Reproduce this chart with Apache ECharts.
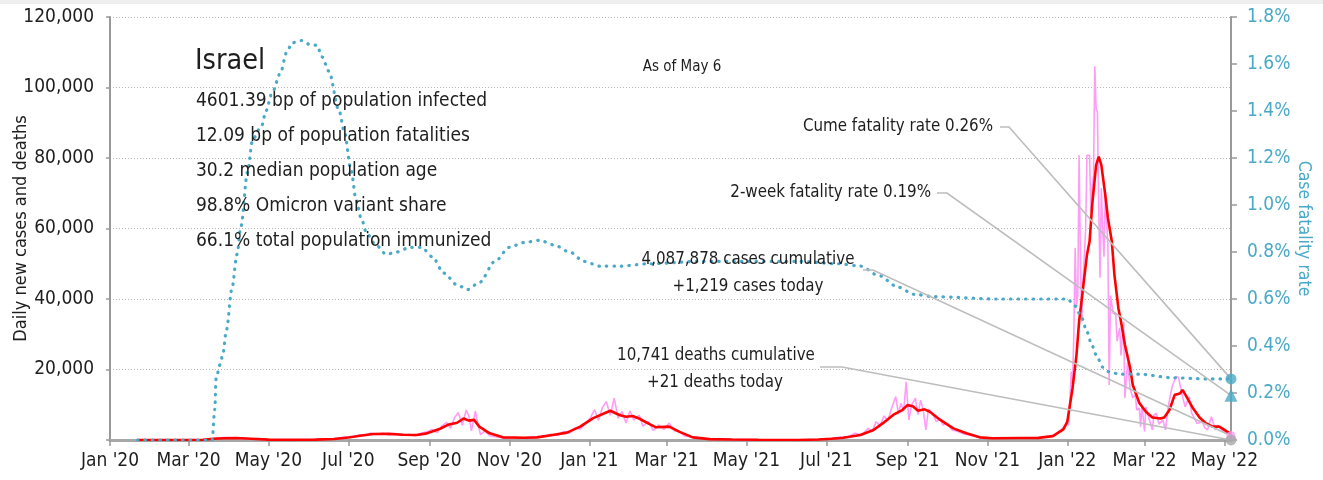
<!DOCTYPE html>
<html>
<head>
<meta charset="utf-8">
<title>Israel – daily new cases and case fatality rate</title>
<script src="https://cdn.jsdelivr.net/npm/echarts@6/dist/echarts.min.js"></script>
<style>
  html, body { margin: 0; padding: 0; background: #ffffff; }
  #chart { width: 1323px; height: 480px; }
</style>
</head>
<body>
<div id="chart"></div>
<script>
// ---------- data ----------
const country = 'Israel';
const asOf = 'As of May 6';
const lastDate = '2022-05-06';

const summaryLines = [
  '4601.39 bp of population infected',
  '12.09 bp of population fatalities',
  '30.2 median population age',
  '98.8% Omicron variant share',
  '66.1% total population immunized'
];

const casesCumulative = 4087878;
const casesToday = 1219;
const deathsCumulative = 10741;
const deathsToday = 21;
const cumeFatalityRate = 0.26;     // %
const twoWeekFatalityRate = 0.19;  // %

const tickDates = ['2020-01-01','2020-03-01','2020-05-01','2020-07-01','2020-09-01','2020-11-01',
  '2021-01-01','2021-03-01','2021-05-01','2021-07-01','2021-09-01','2021-11-01',
  '2022-01-01','2022-03-01','2022-05-01'];
const tickLabels = ["Jan '20","Mar '20","May '20","Jul '20","Sep '20","Nov '20",
  "Jan '21","Mar '21","May '21","Jul '21","Sep '21","Nov '21",
  "Jan '22","Mar '22","May '22"];

// 7-day average of new cases
const avgCases = [
  ['2020-01-22',0],['2020-03-01',0],['2020-03-12',50],['2020-03-20',350],['2020-03-28',500],
  ['2020-04-06',550],['2020-04-18',350],['2020-05-01',120],['2020-05-20',30],['2020-06-06',120],
  ['2020-06-20',300],['2020-07-01',700],['2020-07-10',1200],['2020-07-20',1700],['2020-08-01',1750],
  ['2020-08-12',1500],['2020-08-22',1400],['2020-08-29',1800],['2020-09-03',2400],['2020-09-09',3200],
  ['2020-09-15',4300],['2020-09-22',4900],['2020-09-27',6100],['2020-10-01',5500],['2020-10-05',5700],
  ['2020-10-09',3800],['2020-10-17',1900],['2020-10-27',750],['2020-11-12',650],['2020-11-22',750],
  ['2020-12-04',1400],['2020-12-15',2100],['2020-12-25',3800],['2021-01-04',6200],['2021-01-17',8300],
  ['2021-01-24',7100],['2021-01-29',6600],['2021-02-03',6800],['2021-02-08',6100],['2021-02-16',4500],
  ['2021-02-21',3600],['2021-03-03',3800],['2021-03-11',2300],['2021-03-21',750],['2021-04-03',250],
  ['2021-04-20',150],['2021-05-10',50],['2021-06-10',20],['2021-06-25',150],['2021-07-05',350],
  ['2021-07-14',650],['2021-07-27',1400],['2021-08-06',2850],['2021-08-13',4700],['2021-08-21',7100],
  ['2021-08-28',8500],['2021-09-01',9900],['2021-09-05',9600],['2021-09-09',8300],['2021-09-14',8700],
  ['2021-09-18',8000],['2021-09-26',5700],['2021-10-06',3300],['2021-10-16',1900],['2021-10-26',750],
  ['2021-11-05',500],['2021-11-25',550],['2021-12-10',600],['2021-12-21',1100],['2021-12-26',2300],
  ['2021-12-29',3000],['2022-01-01',5200],['2022-01-05',14700],['2022-01-08',24100],['2022-01-10',33600],
  ['2022-01-13',43000],['2022-01-16',52500],['2022-01-18',56300],['2022-01-20',66700],['2022-01-23',78000],
  ['2022-01-25',80400],['2022-01-27',78000],['2022-01-30',69500],['2022-02-01',63000],['2022-02-04',56300],
  ['2022-02-06',46800],['2022-02-09',37400],['2022-02-11',33600],['2022-02-14',27000],['2022-02-18',20400],
  ['2022-02-20',15600],['2022-02-25',10500],['2022-03-02',8000],['2022-03-07',6400],['2022-03-13',6100],
  ['2022-03-16',6400],['2022-03-20',8500],['2022-03-24',12800],['2022-03-28',13200],['2022-03-30',14200],
  ['2022-04-02',12300],['2022-04-07',9000],['2022-04-12',6400],['2022-04-17',4700],['2022-04-22',3800],
  ['2022-04-27',3800],['2022-05-01',2850],['2022-05-05',1900],['2022-05-06',1700]
];

// reported new cases per day
const dailyCases = [
  ['2020-01-22',0],['2020-03-01',0],['2020-03-12',80],['2020-03-18',300],['2020-03-24',650],
  ['2020-03-31',700],['2020-04-05',500],['2020-04-12',450],['2020-04-20',250],['2020-05-01',100],
  ['2020-05-20',20],['2020-06-06',150],['2020-06-20',350],['2020-06-30',900],['2020-07-06',1000],
  ['2020-07-10',1500],['2020-07-14',1300],['2020-07-18',2000],['2020-07-22',1500],['2020-07-27',1900],
  ['2020-08-01',1400],['2020-08-06',1800],['2020-08-11',1300],['2020-08-16',1600],['2020-08-21',1200],
  ['2020-08-26',2000],['2020-08-30',2300],['2020-09-03',3000],['2020-09-07',2100],['2020-09-10',3800],
  ['2020-09-14',5000],['2020-09-17',3300],['2020-09-20',6300],['2020-09-23',7800],['2020-09-26',4200],
  ['2020-09-29',8500],['2020-10-01',6800],['2020-10-03',2600],['2020-10-06',8200],['2020-10-08',4300],
  ['2020-10-10',1500],['2020-10-13',2600],['2020-10-17',1200],['2020-10-21',900],['2020-10-28',500],
  ['2020-11-05',800],['2020-11-13',550],['2020-11-22',900],['2020-11-29',1100],['2020-12-03',1700],
  ['2020-12-08',1300],['2020-12-12',2400],['2020-12-17',2000],['2020-12-21',3400],['2020-12-25',3100],
  ['2020-12-29',4600],['2021-01-02',6400],['2021-01-05',8600],['2021-01-08',5600],['2021-01-11',9200],
  ['2021-01-14',10900],['2021-01-17',7000],['2021-01-20',11900],['2021-01-23',6200],['2021-01-26',8100],
  ['2021-01-29',4800],['2021-02-01',8200],['2021-02-04',5600],['2021-02-08',7100],['2021-02-11',3900],
  ['2021-02-15',5300],['2021-02-19',2700],['2021-02-23',4300],['2021-02-27',3000],['2021-03-03',4800],
  ['2021-03-07',2600],['2021-03-11',2300],['2021-03-15',1100],['2021-03-22',850],['2021-04-01',300],
  ['2021-04-15',200],['2021-05-10',50],['2021-06-10',20],['2021-06-25',200],['2021-07-05',450],
  ['2021-07-12',800],['2021-07-18',900],['2021-07-23',1900],['2021-07-28',1500],['2021-08-02',3300],
  ['2021-08-05',2400],['2021-08-08',5200],['2021-08-11',4000],['2021-08-14',6800],['2021-08-17',5500],
  ['2021-08-20',9200],['2021-08-23',12300],['2021-08-25',7500],['2021-08-27',10400],['2021-08-29',8200],
  ['2021-08-31',16500],['2021-09-02',5700],['2021-09-04',9800],['2021-09-07',11900],['2021-09-09',7200],
  ['2021-09-11',11300],['2021-09-13',8400],['2021-09-15',2850],['2021-09-17',8800],['2021-09-20',7600],
  ['2021-09-23',5200],['2021-09-26',6100],['2021-09-28',4250],['2021-10-01',4700],['2021-10-05',2850],
  ['2021-10-09',2500],['2021-10-14',1700],['2021-10-20',1300],['2021-10-27',700],['2021-11-05',550],
  ['2021-11-20',500],['2021-12-05',650],['2021-12-14',800],['2021-12-19',1200],['2021-12-23',1500],
  ['2021-12-27',2800],['2021-12-30',4000],['2022-01-01',5000],['2022-01-02',4200],['2022-01-03',11500],
  ['2022-01-04',19400],['2022-01-05',16000],['2022-01-06',30000],['2022-01-07',54500],['2022-01-08',38000],
  ['2022-01-09',41000],['2022-01-10',80800],['2022-01-11',52000],['2022-01-12',33600],['2022-01-13',45000],
  ['2022-01-14',52500],['2022-01-15',60000],['2022-01-16',80800],['2022-01-17',81000],['2022-01-18',80800],
  ['2022-01-19',64800],['2022-01-20',72000],['2022-01-21',75000],['2022-01-22',106000],['2022-01-23',94000],
  ['2022-01-24',93000],['2022-01-25',65800],['2022-01-26',46000],['2022-01-27',71500],['2022-01-28',60000],
  ['2022-01-29',52000],['2022-01-30',70400],['2022-01-31',70400],['2022-02-01',55000],['2022-02-02',15600],
  ['2022-02-03',41000],['2022-02-04',41000],['2022-02-05',36000],['2022-02-07',35500],['2022-02-08',28000],
  ['2022-02-10',31800],['2022-02-11',24000],['2022-02-13',33600],['2022-02-14',11900],['2022-02-16',22000],
  ['2022-02-18',14500],['2022-02-20',12000],['2022-02-22',12800],['2022-02-23',8500],['2022-02-25',9000],
  ['2022-02-26',3800],['2022-02-27',10000],['2022-03-01',2400],['2022-03-02',9400],['2022-03-04',6600],
  ['2022-03-07',2850],['2022-03-08',7000],['2022-03-10',7600],['2022-03-12',4500],['2022-03-15',5700],
  ['2022-03-17',2850],['2022-03-19',9400],['2022-03-22',15100],['2022-03-25',18000],['2022-03-27',17700],
  ['2022-03-29',14000],['2022-03-30',12300],['2022-04-01',9400],['2022-04-04',12300],['2022-04-06',7600],
  ['2022-04-08',6200],['2022-04-10',4700],['2022-04-14',5200],['2022-04-16',3500],['2022-04-18',2850],
  ['2022-04-21',6600],['2022-04-24',2850],['2022-04-26',4200],['2022-04-28',3300],['2022-05-02',1900],
  ['2022-05-04',2500],['2022-05-06',1219]
];

// cumulative case fatality rate, %
const caseFatalityRate = [
  ['2020-01-22',0],['2020-03-19',0],['2020-03-21',0.13],['2020-03-22',0.26],['2020-03-25',0.32],
  ['2020-03-27',0.36],['2020-03-30',0.47],['2020-04-03',0.64],['2020-04-07',0.79],['2020-04-10',0.91],
  ['2020-04-15',1.14],['2020-04-19',1.28],['2020-04-26',1.34],['2020-04-29',1.40],['2020-05-04',1.48],
  ['2020-05-10',1.56],['2020-05-15',1.65],['2020-05-19',1.69],['2020-05-26',1.70],['2020-06-03',1.68],
  ['2020-06-07',1.68],['2020-06-11',1.63],['2020-06-16',1.57],['2020-06-24',1.40],['2020-06-28',1.31],
  ['2020-07-03',1.15],['2020-07-07',1.02],['2020-07-11',0.94],['2020-07-15',0.88],['2020-07-22',0.83],
  ['2020-07-30',0.79],['2020-08-07',0.80],['2020-08-17',0.82],['2020-08-26',0.82],['2020-09-03',0.78],
  ['2020-09-12',0.71],['2020-09-22',0.66],['2020-09-30',0.64],['2020-10-09',0.67],['2020-10-21',0.76],
  ['2020-11-01',0.82],['2020-11-12',0.84],['2020-11-24',0.85],['2020-12-05',0.83],['2020-12-17',0.80],
  ['2020-12-28',0.76],['2021-01-09',0.74],['2021-01-24',0.74],['2021-02-16',0.75],['2021-03-26',0.76],
  ['2021-05-03',0.76],['2021-06-10',0.76],['2021-07-10',0.75],['2021-07-27',0.74],['2021-08-10',0.70],
  ['2021-08-25',0.65],['2021-09-06',0.62],['2021-09-21',0.61],['2021-11-09',0.60],['2022-01-01',0.60],
  ['2022-01-07',0.57],['2022-01-12',0.52],['2022-01-16',0.46],['2022-01-20',0.40],['2022-01-24',0.35],
  ['2022-01-28',0.31],['2022-02-02',0.29],['2022-02-10',0.28],['2022-02-25',0.28],['2022-03-22',0.265],
  ['2022-04-17',0.26],['2022-05-06',0.26]
];

// ---------- helpers ----------
const FONT = '"DejaVu Sans Condensed", "Liberation Sans Narrow", sans-serif';
const TEXT = '#1e1e1e';
const BLUE = '#4aa9c7';
const PINK = '#ff9cf6';
const RED = '#ff0000';
const GREY = '#a8a8a8';

const origin = Date.UTC(2020, 0, 1);
function dayOf(s) {
  const [y, m, d] = s.split('-').map(Number);
  return Math.round((Date.UTC(y, m - 1, d) - origin) / 864e5);
}
const toXY = arr => arr.map(([d, v]) => [dayOf(d), v]);
const fmt = n => n.toLocaleString('en-US');

const tickDays = tickDates.map(dayOf);
const labelOf = {};
tickDays.forEach((d, i) => { labelOf[d] = tickLabels[i]; });
const lastDay = dayOf(lastDate);

// ---------- chart ----------
const chart = echarts.init(document.getElementById('chart'), null, { renderer: 'canvas' });

chart.setOption({
  animation: false,
  backgroundColor: '#ffffff',
  textStyle: { fontFamily: FONT },
  grid: { left: 110, right: 92, top: 17, bottom: 40, containLabel: false, outerBoundsMode: 'none' },
  xAxis: {
    type: 'value',
    min: 0,
    max: lastDay,
    axisLine: { show: true, onZero: false, lineStyle: { color: GREY, width: 3 } },
    axisTick: { show: true, customValues: tickDays, length: 6, lineStyle: { color: '#999', width: 1.5 } },
    axisLabel: {
      customValues: tickDays,
      formatter: v => labelOf[v] || '',
      color: TEXT, fontFamily: FONT, fontSize: 19, margin: 12
    },
    splitLine: { show: false }
  },
  yAxis: [
    {
      type: 'value',
      min: 0, max: 120000, interval: 20000,
      name: 'Daily new cases and deaths',
      nameLocation: 'middle', nameGap: 80, nameRotate: 90, nameMoveOverlap: false,
      nameTextStyle: { color: TEXT, fontFamily: FONT, fontSize: 18 },
      axisLine: { show: true, lineStyle: { color: '#999', width: 2 } },
      axisTick: { show: true, length: 4, lineStyle: { color: '#999', width: 1.5 } },
      axisLabel: {
        formatter: v => (v === 0 ? '' : fmt(v)),
        color: TEXT, fontFamily: FONT, fontSize: 19, margin: 16
      },
      splitLine: { show: true, lineStyle: { color: '#b4b4b4', type: [1, 2], width: 1 } }
    },
    {
      type: 'value',
      position: 'right',
      min: 0, max: 1.8, interval: 0.2,
      name: 'Case fatality rate',
      nameLocation: 'middle', nameGap: 64, nameRotate: -90, nameMoveOverlap: false,
      nameTextStyle: { color: BLUE, fontFamily: FONT, fontSize: 17.5 },
      axisLine: { show: true, lineStyle: { color: '#999', width: 2 } },
      axisTick: { show: true, length: 6, lineStyle: { color: '#999', width: 1.5 } },
      axisLabel: {
        formatter: v => v.toFixed(1) + '%',
        color: BLUE, fontFamily: FONT, fontSize: 19, margin: 16
      },
      splitLine: { show: false }
    }
  ],
  series: [
    {
      name: 'New cases', type: 'line', yAxisIndex: 0, z: 2,
      data: toXY(dailyCases), showSymbol: false, silent: true,
      lineStyle: { color: PINK, width: 1.6 }
    },
    {
      name: '7-day average', type: 'line', yAxisIndex: 0, z: 3,
      data: toXY(avgCases), showSymbol: false, silent: true,
      lineStyle: { color: RED, width: 2.6 }
    },
    {
      name: 'Case fatality rate', type: 'line', yAxisIndex: 1, z: 4,
      data: toXY(caseFatalityRate), showSymbol: false, silent: true,
      smooth: 0.3, smoothMonotone: 'x',
      lineStyle: { color: BLUE, width: 3.2, type: [0.5, 7], cap: 'round' }
    },
    {
      name: 'Latest cases', type: 'scatter', yAxisIndex: 0, z: 20,
      data: [[lastDay, casesToday]], symbol: 'circle', symbolSize: 9,
      itemStyle: { color: PINK }, silent: true
    },
    {
      name: 'Latest deaths', type: 'scatter', yAxisIndex: 0, z: 21,
      data: [[lastDay, deathsToday]], symbol: 'circle', symbolSize: 11,
      itemStyle: { color: GREY }, silent: true
    },
    {
      name: 'Cume fatality rate', type: 'scatter', yAxisIndex: 1, z: 22,
      data: [[lastDay, cumeFatalityRate]], symbol: 'circle', symbolSize: 11,
      itemStyle: { color: BLUE }, silent: true
    },
    {
      name: '2-week fatality rate', type: 'scatter', yAxisIndex: 1, z: 22,
      data: [[lastDay, twoWeekFatalityRate]], symbol: 'triangle', symbolSize: 13,
      itemStyle: { color: BLUE }, silent: true
    }
  ]
});

// ---------- annotations ----------
const px = (yAxisIndex, v) => chart.convertToPixel({ xAxisIndex: 0, yAxisIndex }, [lastDay, v]);

function text(str, x, y, size, align) {
  return {
    type: 'text', z: 5, silent: true,
    style: {
      text: str, x, y, fill: TEXT, font: size + 'px ' + FONT,
      align: align, textAlign: align, verticalAlign: 'middle', textVerticalAlign: 'middle'
    }
  };
}
function leader(x0, x1, y, end) {
  return {
    type: 'polyline', z: 10, silent: true,
    shape: { points: [[x0, y], [x1, y], end] },
    style: { stroke: '#bdbdbd', lineWidth: 1.6, fill: null }
  };
}

const NOTE = 16.8;
const graphics = [
  { type: 'rect', z: 0, silent: true, shape: { x: 0, y: 0, width: 1323, height: 4 }, style: { fill: '#eeeeee' } },
  text(country, 195, 62, 28.5, 'left'),
  text(asOf, 682, 67, 15, 'center'),
  text(`Cume fatality rate ${cumeFatalityRate.toFixed(2)}%`, 993, 127, NOTE, 'right'),
  text(`2-week fatality rate ${twoWeekFatalityRate.toFixed(2)}%`, 931, 193, NOTE, 'right'),
  text(`${fmt(casesCumulative)} cases cumulative`, 748, 260, NOTE, 'center'),
  text(`+${fmt(casesToday)} cases today`, 748, 287, NOTE, 'center'),
  text(`${fmt(deathsCumulative)} deaths cumulative`, 716, 356, NOTE, 'center'),
  text(`+${fmt(deathsToday)} deaths today`, 715, 383, NOTE, 'center'),
  leader(1000, 1009, 127, px(1, cumeFatalityRate)),
  leader(937, 947, 193, px(1, twoWeekFatalityRate)),
  leader(863, 873, 270, px(0, casesToday)),
  leader(820, 842, 367, px(0, deathsToday))
];
summaryLines.forEach((s, i) => graphics.push(text(s, 196, 101 + i * 35, 19, 'left')));

chart.setOption({ graphic: graphics });
</script>
</body>
</html>
